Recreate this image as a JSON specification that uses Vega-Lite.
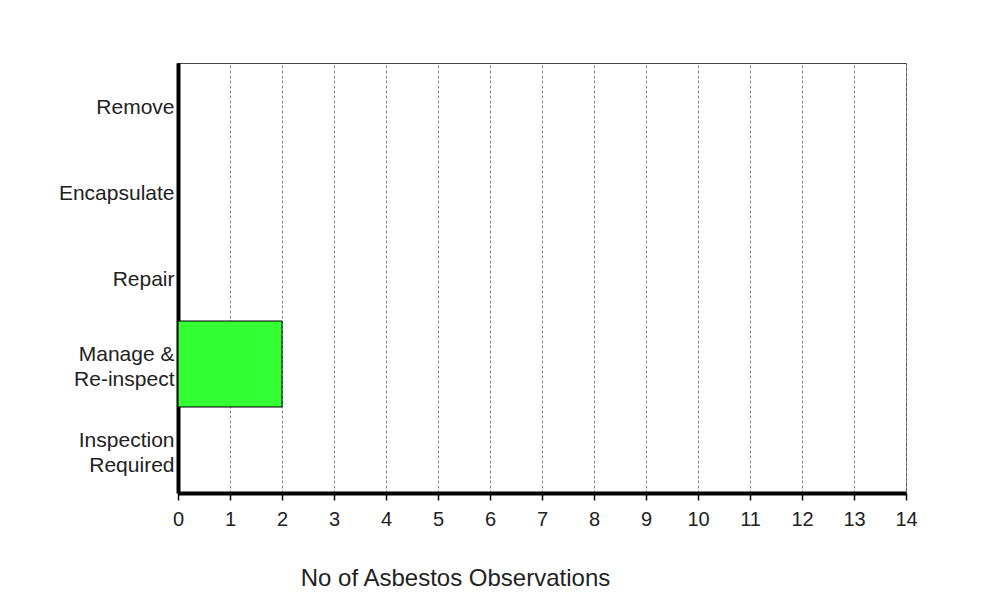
{
  "$schema": "https://vega.github.io/schema/vega-lite/v6.json",
  "width": 728,
  "height": 430,
  "autosize": {"type": "none"},
  "padding": {"left": 178, "top": 63, "right": 93, "bottom": 112},
  "background": "white",
  "config": {
    "font": "Liberation Sans",
    "view": {"stroke": "#444", "strokeWidth": 1},
    "axis": {"labelFont": "Liberation Sans", "titleFont": "Liberation Sans", "labelColor": "#222", "titleColor": "#222"}
  },
  "data": {
    "values": [
      {"action": "Remove", "count": 0},
      {"action": "Encapsulate", "count": 0},
      {"action": "Repair", "count": 0},
      {"action": "Manage & Re-inspect", "count": 2},
      {"action": "Inspection Required", "count": 0}
    ]
  },
  "mark": {"type": "bar", "color": "#33FF33", "stroke": "#000", "strokeWidth": 1},
  "encoding": {
    "y": {
      "field": "action",
      "type": "nominal",
      "sort": null,
      "scale": {"paddingInner": 0, "paddingOuter": 0},
      "axis": {
        "title": null,
        "ticks": false,
        "domainColor": "#000",
        "domainWidth": 4,
        "labelFontSize": 21,
        "labelLineHeight": 25,
        "labelPadding": 4,
        "labelOffset": {"condition": {"test": "datum.value == 'Manage & Re-inspect' || datum.value == 'Inspection Required'", "value": -9}, "value": 2},
        "labelExpr": "datum.value == 'Manage & Re-inspect' ? ['Manage &', 'Re-inspect'] : datum.value == 'Inspection Required' ? ['Inspection', 'Required'] : datum.value"
      }
    },
    "x": {
      "field": "count",
      "type": "quantitative",
      "scale": {"domain": [0, 14], "nice": false},
      "axis": {
        "title": "No of Asbestos Observations",
        "values": [0,1,2,3,4,5,6,7,8,9,10,11,12,13,14],
        "grid": true,
        "gridDash": [3, 2],
        "gridColor": "#888",
        "gridWidth": 1,
        "domainColor": "#000",
        "domainWidth": 4,
        "tickColor": "#000",
        "tickWidth": 1.5,
        "tickSize": 7,
        "labelFlush": false,
        "labelFontSize": 20,
        "labelPadding": 9,
        "titleFontSize": 24,
        "titleFontWeight": "normal",
        "titleX": 277,
        "titleY": 85,
        "titleAlign": "center",
        "titleBaseline": "middle"
      }
    }
  }
}
